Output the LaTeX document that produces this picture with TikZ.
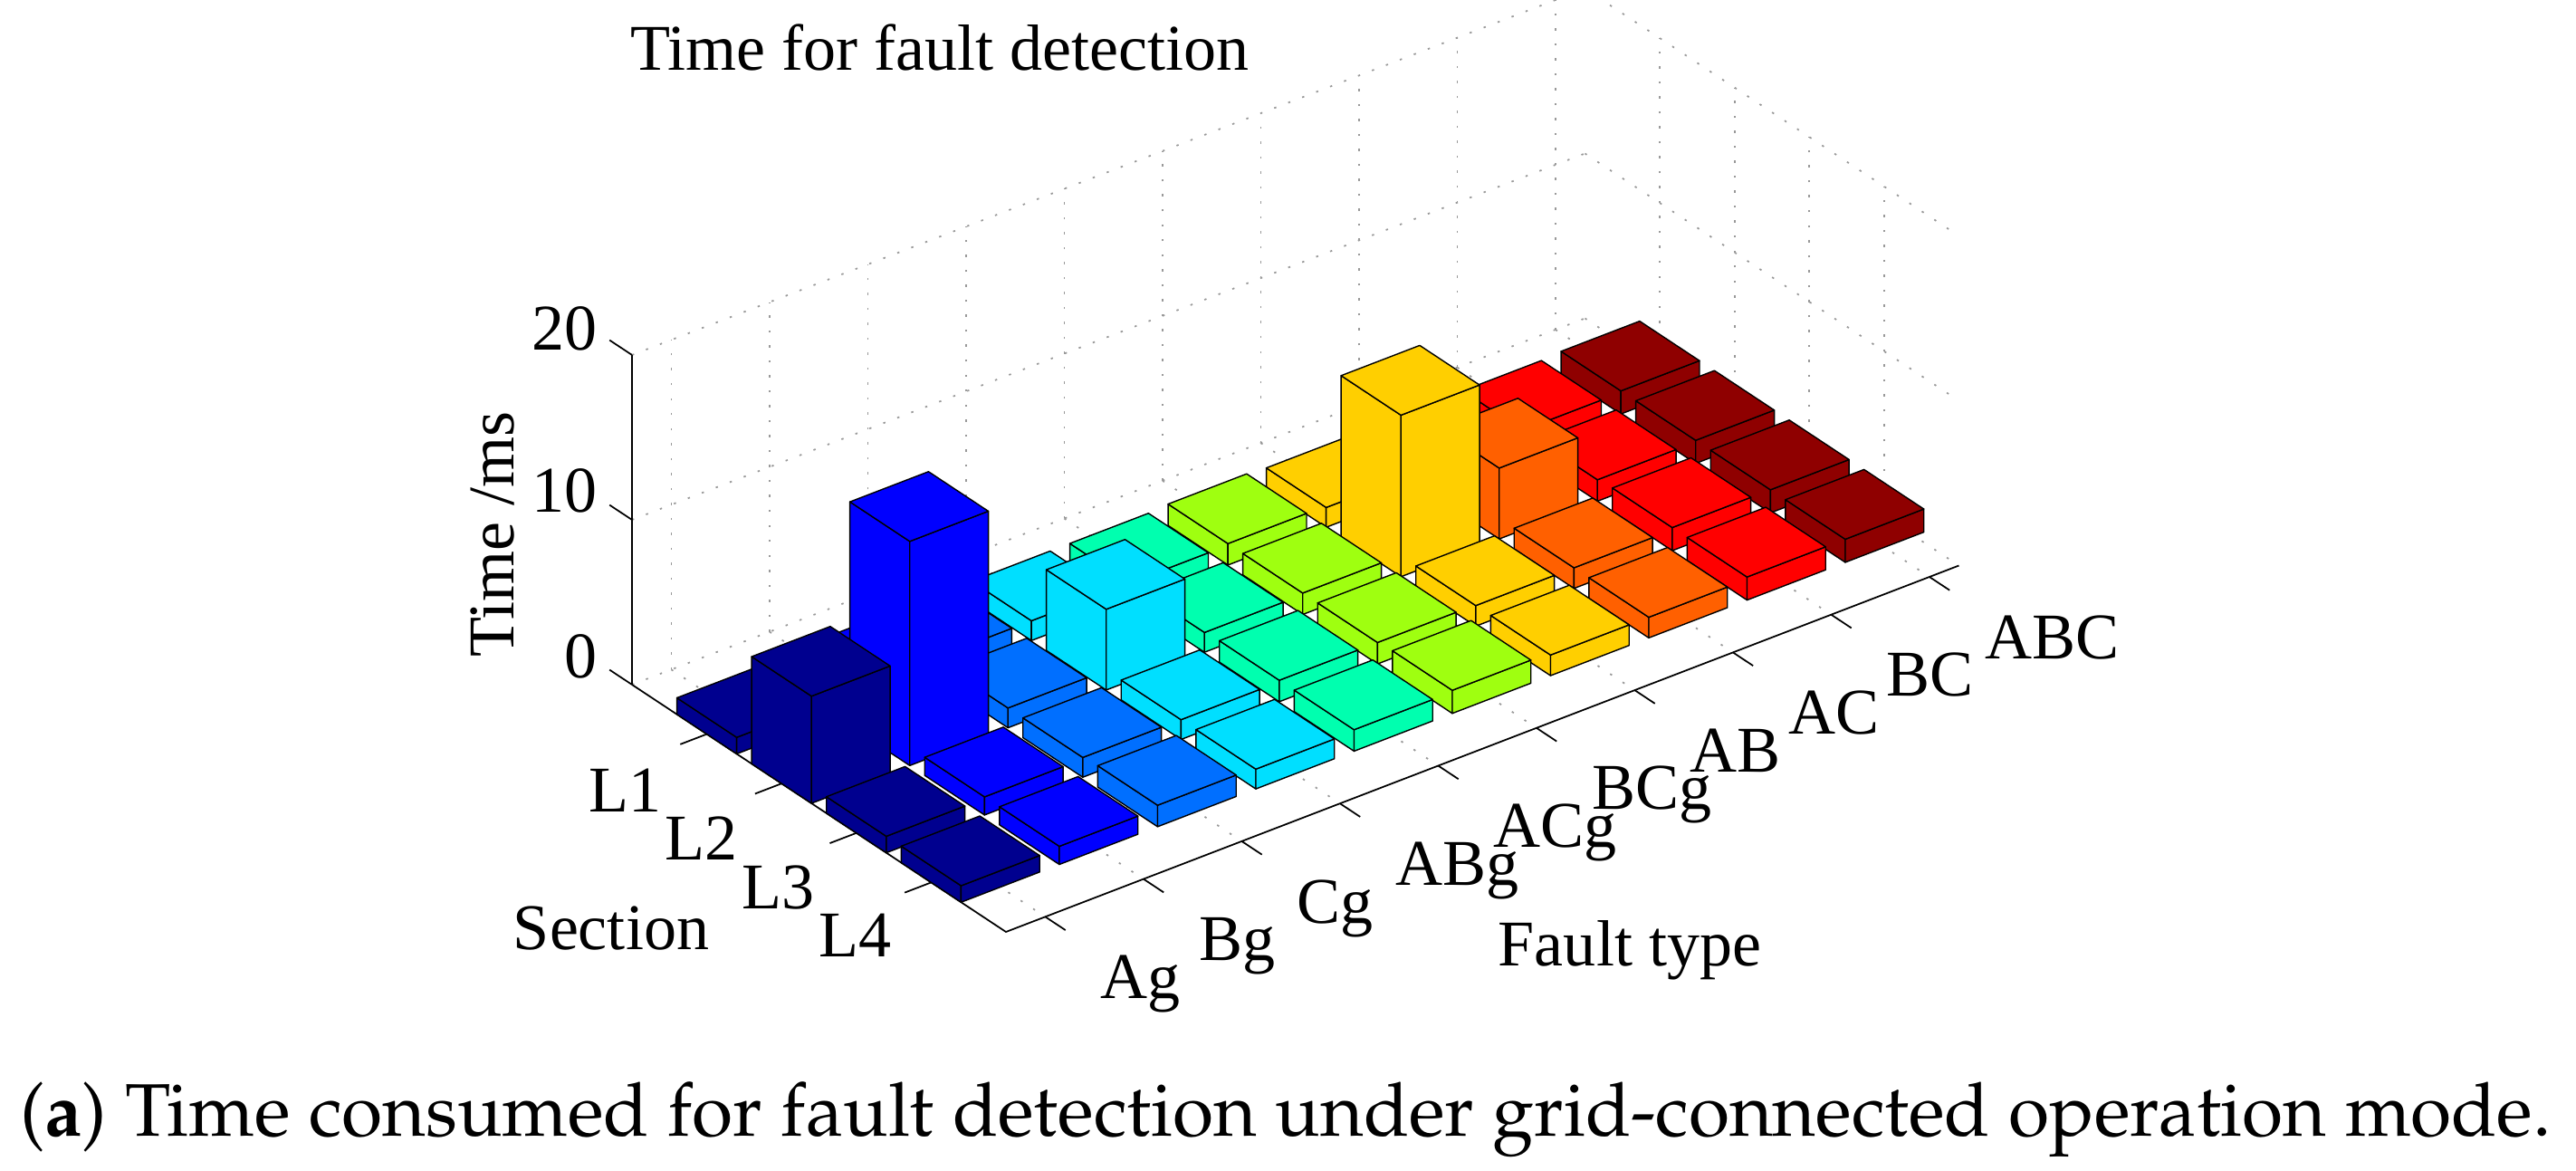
\documentclass[tikz,border=0pt]{standalone}
\usepackage{fontspec}
\setmainfont{Liberation Serif}
\begin{document}
\begin{tikzpicture}[
  lab/.style={inner sep=0pt,font=\fontsize{20.5}{24}\selectfont},
  grid/.style={gray!80,line width=0.5pt,dash pattern=on 0.7pt off 4pt},
  ax/.style={black,line width=0.5pt},
  barf/.style={draw=black,line width=0.4pt,line join=round}
]
\useasboundingbox (0,0) rectangle (28.45,12.92);
\definecolor{c1}{RGB}{0,0,143}
\definecolor{c2}{RGB}{0,0,255}
\definecolor{c3}{RGB}{0,111,255}
\definecolor{c4}{RGB}{0,223,255}
\definecolor{c5}{RGB}{0,255,175}
\definecolor{c6}{RGB}{159,255,16}
\definecolor{c7}{RGB}{255,207,0}
\definecolor{c8}{RGB}{255,96,0}
\definecolor{c9}{RGB}{255,0,0}
\definecolor{c10}{RGB}{143,0,0}
\begin{scope}
\clip (0,0) rectangle (28.45,12.92);
\begin{scope}[shift={(6.329,5.110)},x={(1.085cm,0.417cm)},y={(0.826cm,-0.546cm)},z={(0cm,0.182cm)}]
% grids
\foreach \zz in {0,10,20} {
  \draw[grid] (0.6,0,\zz) -- (10.3,0,\zz);
  \draw[grid] (10.3,0,\zz) -- (10.3,5,\zz);
}
\foreach \f in {1,...,10} {
  \draw[grid] (\f,0,0) -- (\f,0,20);
  \draw[grid] (\f,0,0) -- (\f,5,0);
}
\foreach \s in {1,...,4} {
  \draw[grid] (10.3,\s,0) -- (10.3,\s,20);
  \draw[grid] (0.6,\s,0) -- (10.3,\s,0);
}
% axes
\draw[ax] (0.6,0,0) -- (0.6,0,20);
\draw[ax] (0.6,0,0) -- (0.6,5,0) -- (10.3,5,0);
\foreach \zz in {0,10,20} \draw[ax] (0.6,0,\zz) -- (0.6,-0.3,\zz);
\foreach \s in {1,...,4} \draw[ax] (0.6,\s,0) -- (0.33,\s,0);
\foreach \f in {1,...,10} \draw[ax] (\f,5,0) -- (\f,5.27,0);
% bars
\foreach \f/\s/\h in {
 10/1/1.4,10/2/1.4,10/3/1.4,10/4/1.4,
 9/1/1.3,9/2/1.3,9/3/1.4,9/4/1.4,
 8/1/1.2,8/2/4.3,8/3/1.25,8/4/1.25,
 7/1/1.2,7/2/9.8,7/3/1.25,7/4/1.25,
 6/1/1.3,6/2/1.3,6/3/1.3,6/4/1.4,
 5/1/1.2,5/2/1.2,5/3/1.3,5/4/1.3,
 4/1/1.2,4/2/4.9,4/3/1.2,4/4/1.2,
 3/1/1.2,3/2/1.2,3/3/1.2,3/4/1.3,
 2/1/1.2,2/2/13.6,2/3/1.1,2/4/1.1,
 1/1/1.0,1/2/6.5,1/3/1.0,1/4/1.0} {
  \pgfmathsetmacro\fa{\f-0.4}\pgfmathsetmacro\fb{\f+0.4}
  \pgfmathsetmacro\sa{\s-0.4}\pgfmathsetmacro\sb{\s+0.4}
  \filldraw[barf,fill=c\f] (\fa,\sa,0) -- (\fa,\sb,0) -- (\fa,\sb,\h) -- (\fa,\sa,\h) -- cycle;
  \filldraw[barf,fill=c\f] (\fa,\sb,0) -- (\fb,\sb,0) -- (\fb,\sb,\h) -- (\fa,\sb,\h) -- cycle;
  \filldraw[barf,fill=c\f] (\fa,\sa,\h) -- (\fb,\sa,\h) -- (\fb,\sb,\h) -- (\fa,\sb,\h) -- cycle;
}
\end{scope}
\end{scope}
% z labels
\node[lab,anchor=east] (z20) at (6.60,12.92-3.63) {20};
\node[lab,anchor=east] (z10) at (6.60,12.92-5.42) {10};
\node[lab,anchor=east] (z0) at (6.60,12.92-7.25) {0};
\node[lab,rotate=90] (zt) at (5.44,12.92-5.90) {Time /ms};
% section labels
\foreach \n [count=\j from 0] in {L1,L2,L3,L4}
  \node[lab,anchor=north east] (sec\j) at ({7.31+0.846*\j},{12.92-8.48-0.535*\j}) {\n};
\node[lab] (secl) at (6.75,12.92-10.25) {Section};
% fault labels
\foreach \n [count=\k from 0] in {Ag,Bg,Cg,ABg,ACg,BCg,AB,AC,BC,ABC}
  \node[lab,anchor=north west] (ft\k) at ({12.15+1.085*\k},{12.92-10.54+0.417*\k}) {\n};
\node[lab] (ftl) at (18.0,12.92-10.49) {Fault type};
\node[lab] (title) at (10.38,12.92-0.52) {Time for fault detection};
\node[inner sep=0pt,font=\fontsize{23.4}{28}\selectfont\fontencoding{OT1}\fontfamily{ppl}\selectfont] (cap) at (14.2,12.92-12.36) {(\textbf{a}) Time consumed for fault detection under grid-connected operation mode.};
\end{tikzpicture}
\end{document}
